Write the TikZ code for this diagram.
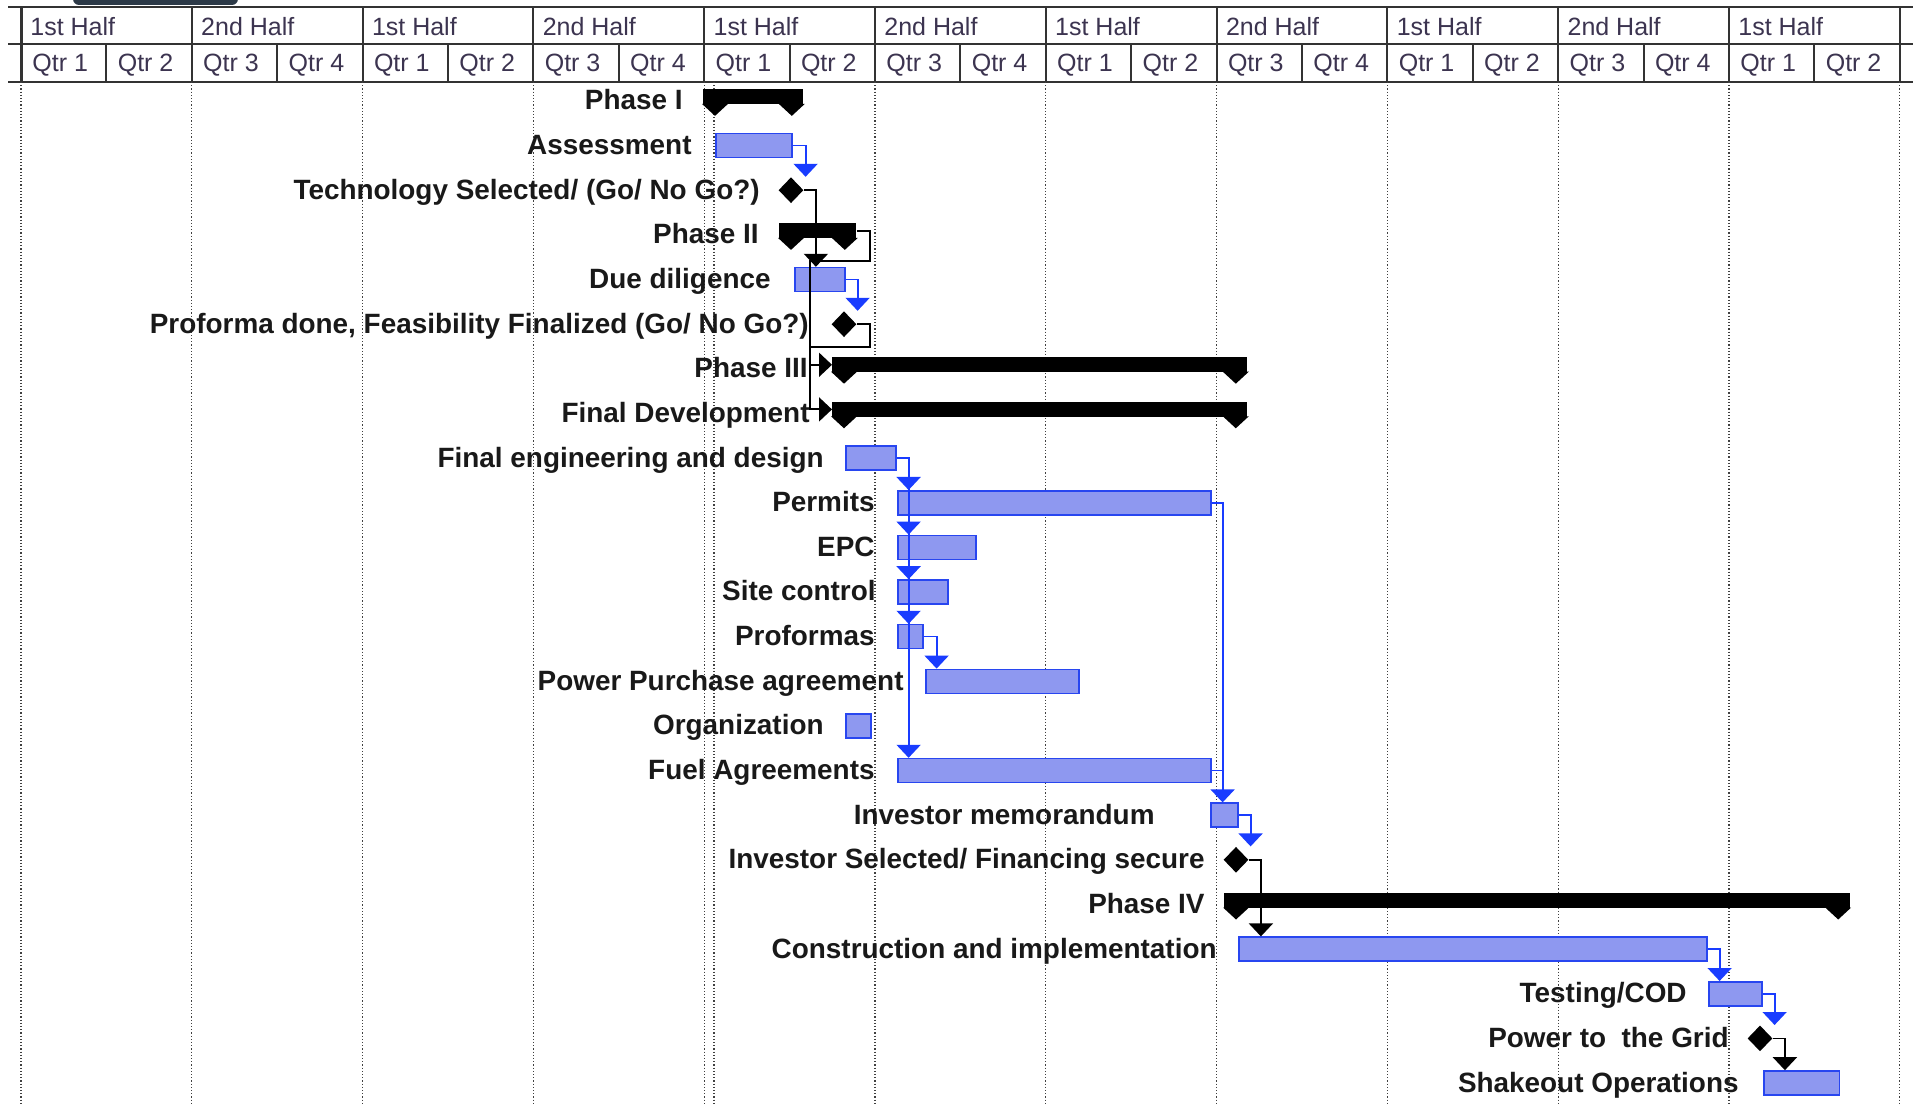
\documentclass[tikz,border=0pt]{standalone}
\usepackage{fontspec}
\setmainfont{Liberation Sans}
\usetikzlibrary{arrows.meta,shapes.geometric}
\definecolor{barfill}{RGB}{142,152,240}
\definecolor{barline}{RGB}{40,70,240}
\definecolor{linkblue}{RGB}{25,60,255}
\definecolor{hdrtext}{RGB}{60,52,80}
\definecolor{globe}{RGB}{45,58,72}

\begin{document}
\begin{tikzpicture}[x=1pt,y=-1pt,
    hdrline/.style={line width=1pt, black!80},
    gridline/.style={densely dotted, line width=0.6pt, black!75},
    hdr/.style={anchor=base west, inner sep=0pt, text=hdrtext, font=\fontsize{12.5}{14}\selectfont},
    lbl/.style={anchor=base east, inner sep=0pt, text=black!90, font=\fontsize{13.95}{16}\selectfont\bfseries},
    task/.style={draw=barline, fill=barfill, line width=0.8pt, anchor=west, inner sep=0pt, minimum height=12pt},
    sumbar/.style={fill=black, anchor=west, inner sep=0pt, minimum height=7.5pt},
    mstone/.style={diamond, fill=black, inner sep=0pt, minimum width=12.5pt, minimum height=13pt},
    blink/.style={draw=linkblue, line width=0.9pt, -{Triangle[width=12pt,length=6.5pt]}},
    klink/.style={draw=black, line width=0.9pt, -{Triangle[width=12pt,length=6.5pt]}},
    sumcap/.pic={\fill (-6.5pt,0.5pt) -- (6.5pt,0.5pt) -- (0pt,-5.5pt) -- cycle;}
]

        \useasboundingbox (0,0) rectangle (956.5,553);
        \fill[white] (0,0) rectangle (956.5,553);
        \fill[globe, rounded corners=3pt] (36.5,-6) rectangle (119,2.5);

        % time scale
        \draw[hdrline] (4,3.5) -- (956.5,3.5);
        \draw[hdrline] (4,22) -- (956.5,22);
        \draw[hdrline] (4,41) -- (956.5,41);
        \draw[line width=1.5pt, black!80] (10.5,3.5) -- (10.5,41);
        \foreach \q in {2,4,...,22}
            \draw[hdrline] ({10.5+42.7*\q},3.5) -- ({10.5+42.7*\q},41);
        \foreach \q in {1,3,...,21}
            \draw[hdrline] ({10.5+42.7*\q},22) -- ({10.5+42.7*\q},41);
        \foreach \q in {0,4,...,20}
            \node[hdr] (hh\q) at ({15+42.7*\q},18) {1st Half};
        \foreach \q in {2,6,...,18}
            \node[hdr] (hh\q) at ({15+42.7*\q},18) {2nd Half};
        \foreach \q in {0,...,21} {
            \pgfmathtruncatemacro{\qn}{mod(\q,4)+1}
            \node[hdr] (hq\q) at ({16+42.7*\q},36) {Qtr \qn};
        }

        \foreach \q in {0,2,...,22}
            \draw[gridline] ({10.5+42.7*\q},41) -- ({10.5+42.7*\q},553);
        \draw[gridline] (357,41) -- (357,553);

        % Phase I
        \node[sumbar, minimum width=50pt] (ph1) at (351.5,48.5) {};
        \pic at ([xshift=6pt]ph1.south west) {sumcap};
        \pic at ([xshift=-6pt]ph1.south east) {sumcap};
        \node[lbl] (lph1) at (341.5,55) {Phase I};

        \node[task, minimum width=38pt] (assess) at (357.5,72.8) {};
        \node[lbl] (lassess) at (346,77.3) {Assessment};

        \node[mstone] (techsel) at (395.5,95.1) {};
        \node[lbl] (ltech) at (380,99.6) {Technology Selected/ (Go/ No Go?)};

        % Phase II
        \node[sumbar, minimum width=38.5pt] (ph2) at (389.5,115.5) {};
        \pic at ([xshift=6pt]ph2.south west) {sumcap};
        \pic at ([xshift=-6pt]ph2.south east) {sumcap};
        \node[lbl] (lph2) at (379.5,122) {Phase II};

        \node[task, minimum width=25pt] (dd) at (397,139.8) {};
        \node[lbl] (ldd) at (385.5,144.3) {Due diligence};

        \node[mstone] (pfd) at (422,162.1) {};
        \node[lbl] (lpfd) at (404.5,166.6) {Proforma done, Feasibility Finalized (Go/ No Go?)};

        % Phase III
        \node[sumbar, minimum width=207.5pt] (ph3) at (416,182.4) {};
        \pic at ([xshift=6pt]ph3.south west) {sumcap};
        \pic at ([xshift=-6pt]ph3.south east) {sumcap};
        \node[lbl] (lph3) at (404,188.9) {Phase III};

        \node[sumbar, minimum width=207.5pt] (fdev) at (416,204.7) {};
        \pic at ([xshift=6pt]fdev.south west) {sumcap};
        \pic at ([xshift=-6pt]fdev.south east) {sumcap};
        \node[lbl] (lfdev) at (405,211.2) {Final Development};

        \node[task, minimum width=25pt] (fe) at (422.5,229.1) {};
        \node[lbl] (lfe) at (412,233.6) {Final engineering and design};

        \node[task, minimum width=156.5pt] (permits) at (448.5,251.4) {};
        \node[lbl] (lpermits) at (437.5,255.9) {Permits};

        \node[task, minimum width=39pt] (epc) at (448.5,273.7) {};
        \node[lbl] (lepc) at (437.5,278.2) {EPC};

        \node[task, minimum width=25pt] (site) at (448.5,296) {};
        \node[lbl] (lsite) at (438,300.5) {Site control};

        \node[task, minimum width=12.5pt] (pfs) at (448.5,318.3) {};
        \node[lbl] (lpfs) at (437.5,322.8) {Proformas};

        \node[task, minimum width=76.5pt] (ppa) at (462.5,340.7) {};
        \node[lbl] (lppa) at (452,345.2) {Power Purchase agreement};

        \node[task, minimum width=12.5pt] (org) at (422.5,363) {};
        \node[lbl] (lorg) at (412,367.5) {Organization};

        \node[task, minimum width=156.5pt] (fuel) at (448.5,385.3) {};
        \node[lbl] (lfuel) at (437.5,389.8) {Fuel Agreements};

        \node[task, minimum width=13.5pt] (imemo) at (605,407.6) {};
        \node[lbl] (limemo) at (577.5,412.1) {Investor memorandum};

        \node[mstone] (isel) at (618,429.9) {};
        \node[lbl] (lisel) at (602.5,434.4) {Investor Selected/ Financing secure};

        % Phase IV
        \node[sumbar, minimum width=312.7pt] (ph4) at (612,450.3) {};
        \pic at ([xshift=6pt]ph4.south west) {sumcap};
        \pic at ([xshift=-6pt]ph4.south east) {sumcap};
        \node[lbl] (lph4) at (602.5,456.8) {Phase IV};

        \node[task, minimum width=234pt] (cons) at (619,474.6) {};
        \node[lbl] (lcons) at (608.5,479.1) {Construction and implementation};

        \node[task, minimum width=26.5pt] (test) at (854,496.9) {};
        \node[lbl] (ltest) at (843.5,501.4) {Testing/COD};

        \node[mstone] (power) at (880,519.2) {};
        \node[lbl] (lpower) at (864.5,523.7) {Power to~ the Grid};

        \node[task, minimum width=37.8pt] (shake) at (881.5,541.5) {};
        \node[lbl] (lshake) at (869.5,546) {Shakeout Operations};

        % links
        \draw[blink] (assess.east) -- ++(6.5,0) coordinate (c1) -- (c1 |- techsel.north);
        \draw[klink] (techsel.east) -- ++(6,0) coordinate (c2) -- (c2 |- dd.north);
        \draw[blink] (dd.east) -- ++(6,0) coordinate (c3) -- (c3 |- pfd.north);
        \draw[klink] (ph2.east) -- ++(6.5,0) -- ++(0,15) -| ([xshift=-11pt]ph3.west) -- (ph3.west);
        \draw[klink] (pfd.east) -- ++(6.5,0) -- ++(0,11.5) -| ([xshift=-11pt]fdev.west) -- (fdev.west);
        \draw[blink] (fe.east) -- ++(6,0) coordinate (c4) -- (c4 |- permits.north);
        \foreach \t in {epc,site,pfs,fuel}
            \draw[blink] (c4) -- (c4 |- \t.north);
        \draw[blink] (pfs.east) -- ++(6.5,0) coordinate (c5) -- (c5 |- ppa.north);
        \draw[blink] (permits.east) -- ++(5.5,0) coordinate (c6) -- (c6 |- imemo.north);
        \draw[blink, -] (fuel.east) -- (fuel.east -| c6);
        \draw[blink] (imemo.east) -- ++(6,0) coordinate (c7) -- (c7 |- isel.north);
        \draw[klink] (isel.east) -- ++(6,0) coordinate (c8) -- (c8 |- cons.north);
        \draw[blink] (cons.east) -- ++(6,0) coordinate (c9) -- (c9 |- test.north);
        \draw[blink] (test.east) -- ++(6,0) coordinate (c10) -- (c10 |- power.north);
        \draw[klink] (power.east) -- ++(6,0) coordinate (c11) -- (c11 |- shake.north);

    \end{tikzpicture}
\end{document}
